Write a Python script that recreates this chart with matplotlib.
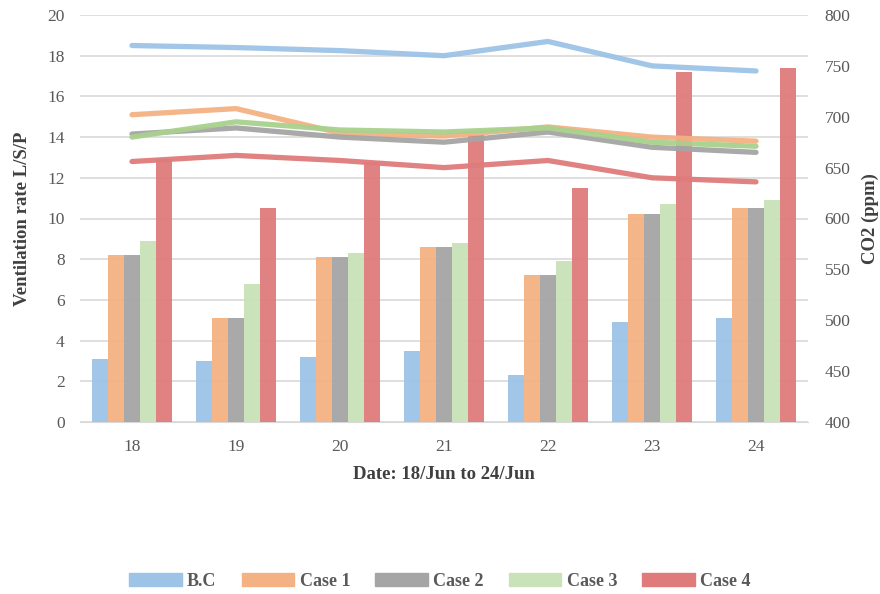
import numpy as np
import matplotlib.pyplot as plt
from matplotlib.patches import Patch

plt.rcParams['font.family'] = ['Liberation Serif', 'DejaVu Serif']

days = ['18', '19', '20', '21', '22', '23', '24']
series = ['B.C', 'Case 1', 'Case 2', 'Case 3', 'Case 4']

# ventilation rate (L/S/P), bars
vent_bc = [3.1, 3.0, 3.2, 3.5, 2.3, 4.9, 5.1]
vent_c1 = [8.2, 5.1, 8.1, 8.6, 7.2, 10.2, 10.5]
vent_c2 = [8.2, 5.1, 8.1, 8.6, 7.2, 10.2, 10.5]
vent_c3 = [8.9, 6.8, 8.3, 8.8, 7.9, 10.7, 10.9]
vent_c4 = [12.9, 10.5, 12.8, 14.1, 11.5, 17.2, 17.4]

# CO2 (ppm), lines
co2_bc = [770, 768, 765, 760, 774, 750, 745]
co2_c1 = [702, 708, 684, 681, 690, 680, 676]
co2_c2 = [683, 689, 680, 675, 685, 670, 665]
co2_c3 = [680, 695, 687, 685, 689, 675, 671]
co2_c4 = [656, 662, 657, 650, 657, 640, 636]

bar_colors = ['#9DC3E6', '#F4B183', '#A5A5A5', '#C9E2B8', '#E07B7B']
line_colors = ['#9DC3E6', '#F4B183', '#A5A5A5', '#A9D18E', '#E07B7B']
vents = [vent_bc, vent_c1, vent_c2, vent_c3, vent_c4]
co2s = [co2_bc, co2_c1, co2_c2, co2_c3, co2_c4]

fig = plt.figure(figsize=(8.8, 5.94), dpi=100)
ax = fig.add_axes([80/880, 1-422/594, 728/880, 407/594])
ax2 = ax.twinx()

x = np.arange(len(days))
w = 0.153
for i, v in enumerate(vents):
    ax.bar(x + (i - 2) * w, v, w, color=bar_colors[i], alpha=0.95, zorder=3)

for i, c in enumerate(co2s):
    ax2.plot(x, c, color=line_colors[i], lw=3.8, solid_capstyle='round', alpha=0.95)

ax.set_xlim(-0.5, 6.5)
ax.set_ylim(0, 20)
ax.set_yticks(range(0, 21, 2))
ax2.set_ylim(400, 800)
ax2.set_yticks(range(400, 801, 50))
ax.set_xticks(x)
ax.set_xticklabels(days)
ax.grid(axis='y', color='#D9D9D9', lw=1.2, zorder=0)
ax.set_axisbelow(True)

for a in (ax, ax2):
    for s in a.spines.values():
        s.set_visible(False)
    a.tick_params(length=0, labelsize=12.5, colors='#595959')
ax.spines['bottom'].set_visible(True)
ax.spines['bottom'].set_color('#D9D9D9')
ax.tick_params(axis='x', pad=12)
ax.tick_params(axis='y', pad=11)
ax2.tick_params(axis='y', pad=12)

ax.set_xlabel('Date: 18/Jun to 24/Jun', fontsize=13.5, fontweight='bold', color='#404040', labelpad=8)
ax.set_ylabel('Ventilation rate L/S/P', fontsize=13.5, fontweight='bold', color='#404040', labelpad=12)
ax2.set_ylabel('CO2 (ppm)', fontsize=13.5, fontweight='bold', color='#404040', labelpad=8)

handles = [Patch(color=c, label=s) for c, s in zip(bar_colors, series)]
fig.legend(handles=handles, loc='center', bbox_to_anchor=(440/880, 1-581/594), ncol=5,
           frameon=False, handlelength=2.9, handleheight=0.7, columnspacing=1.4,
           handletextpad=0.3, prop={'weight': 'bold', 'size': 13})
for t in fig.legends[0].get_texts():
    t.set_color('#595959')

fig.savefig('out.png', dpi=100)
